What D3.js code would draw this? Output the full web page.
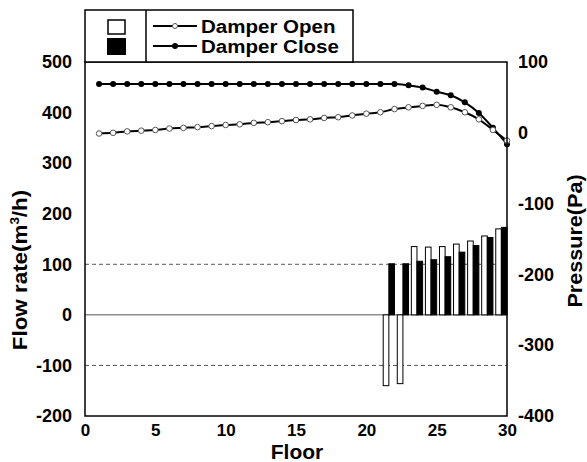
<!DOCTYPE html>
<html>
<head>
<meta charset="utf-8">
<script src="https://cdn.jsdelivr.net/npm/d3@7"></script>
<style>
  html, body { margin: 0; padding: 0; background: #fff; }
  svg { display: block; font-family: "Liberation Sans", Arial, sans-serif; font-weight: bold; }
</style>
</head>
<body>
<svg id="chart" width="587" height="462"></svg>
<script>
// Floors along the x axis
const floors = d3.range(1, 31);

// Pressure (Pa) per floor, right axis
const pressureOpen = [-1, 0, 2, 3, 4, 6, 7, 8, 9.5, 11, 12, 14, 15, 16.5, 18, 19, 21, 22, 24.5, 27,
                      29, 33.5, 36, 38, 39.5, 36, 29, 19, 4, -11];
const pressureClose = [69, 69, 69, 69, 69, 69, 69, 69, 69, 69, 69, 69, 69, 69, 69, 69, 69, 69, 69, 69,
                       69, 69, 67, 64, 58, 53, 43, 28, 7, -16];

// Flow rate (m3/h) per floor, left axis bars
const barFloors = [22, 23, 24, 25, 26, 27, 28, 29, 30];
const flowOpen  = [-140, -136, 135, 134, 135, 140, 146, 156, 170];
const flowClose = [101, 101, 106, 109, 115, 124, 137, 153, 173];

// Axis ticks
const xTicks = [0, 5, 10, 15, 20, 25, 30];
const leftTicks = [-200, -100, 0, 100, 200, 300, 400, 500];
const rightTicks = [-400, -300, -200, -100, 0, 100];
const refLines = [100, -100];

const legendLabels = ["Damper Open", "Damper Close"];

const svg = d3.select("#chart");
const L = 85, R = 507, T = 62, B = 416;

const x = d3.scaleLinear().domain([0, 30]).range([L, R]);
const yFlow = d3.scaleLinear().domain([-200, 500]).range([B, T]);
const yPres = d3.scaleLinear().domain([-400, 100]).range([B, T]);

// zero line and dashed reference lines
svg.append("line")
  .attr("x1", L).attr("x2", R)
  .attr("y1", yFlow(0)).attr("y2", yFlow(0))
  .attr("stroke", "#555").attr("stroke-width", 1);
svg.selectAll("line.ref").data(refLines).enter().append("line")
  .attr("class", "ref")
  .attr("x1", L).attr("x2", R)
  .attr("y1", d => yFlow(d)).attr("y2", d => yFlow(d))
  .attr("stroke", "#555").attr("stroke-width", 1).attr("stroke-dasharray", "4,3");

// bars: open bar then close bar, ending at the floor position
const bw = 0.4;
const bars = svg.append("g");
barFloors.forEach((f, i) => {
  const vO = flowOpen[i], vC = flowClose[i];
  bars.append("rect")
    .attr("x", x(f - 2 * bw)).attr("width", x(bw) - x(0))
    .attr("y", yFlow(Math.max(0, vO))).attr("height", Math.abs(yFlow(vO) - yFlow(0)))
    .attr("fill", "#fff").attr("stroke", "#000").attr("stroke-width", 1);
  bars.append("rect")
    .attr("x", x(f - bw)).attr("width", x(bw) - x(0))
    .attr("y", yFlow(Math.max(0, vC))).attr("height", Math.abs(yFlow(vC) - yFlow(0)))
    .attr("fill", "#000").attr("stroke", "#000").attr("stroke-width", 1);
});

// pressure lines
const line = d3.line().x((d, i) => x(floors[i])).y(d => yPres(d)).curve(d3.curveMonotoneX);
svg.append("path").datum(pressureClose).attr("d", line)
  .attr("fill", "none").attr("stroke", "#000").attr("stroke-width", 2);
svg.append("path").datum(pressureOpen).attr("d", line)
  .attr("fill", "none").attr("stroke", "#000").attr("stroke-width", 2);
svg.selectAll("circle.close").data(pressureClose).enter().append("circle")
  .attr("class", "close")
  .attr("cx", (d, i) => x(floors[i])).attr("cy", d => yPres(d)).attr("r", 3)
  .attr("fill", "#000");
svg.selectAll("circle.open").data(pressureOpen).enter().append("circle")
  .attr("class", "open")
  .attr("cx", (d, i) => x(floors[i])).attr("cy", d => yPres(d)).attr("r", 2.8)
  .attr("fill", "#fff").attr("stroke", "#555").attr("stroke-width", 1);

// frame
svg.append("rect").attr("x", L).attr("y", T).attr("width", R - L).attr("height", B - T)
  .attr("fill", "none").attr("stroke", "#000").attr("stroke-width", 1.5);

// axes (plain hyphen for negative numbers)
const fmt = d => String(d);
const xAxis = svg.append("g").attr("transform", `translate(0,${B})`)
  .call(d3.axisBottom(x).tickValues(xTicks).tickFormat(fmt).tickSize(0).tickPadding(8));
const lAxis = svg.append("g").attr("transform", `translate(${L},0)`)
  .call(d3.axisLeft(yFlow).tickValues(leftTicks).tickFormat(fmt).tickSize(0).tickPadding(13));
const rAxis = svg.append("g").attr("transform", `translate(${R},0)`)
  .call(d3.axisRight(yPres).tickValues(rightTicks).tickFormat(fmt).tickSize(0).tickPadding(11));
[[xAxis, 17], [lAxis, 18], [rAxis, 18]].forEach(([g, s]) => {
  g.select(".domain").remove();
  g.selectAll("text").attr("font-size", s).attr("font-weight", "bold")
    .attr("font-family", "Liberation Sans, Arial, sans-serif").attr("fill", "#000");
});

// axis titles
svg.append("text").attr("transform", "translate(297,459) scale(1.05,1)")
  .attr("text-anchor", "middle").attr("font-size", 20).text("Floor");
const lt = svg.append("text").attr("transform", "translate(27,270) rotate(-90) scale(1.12,1)")
  .attr("text-anchor", "middle").attr("font-size", 20);
lt.append("tspan").text("Flow rate(m");
lt.append("tspan").attr("font-size", 12).attr("dy", -8).text("3");
lt.append("tspan").attr("dy", 8).text("/h)");
svg.append("text").attr("transform", "translate(582,241) rotate(-90) scale(1.08,1)")
  .attr("text-anchor", "middle").attr("font-size", 20).text("Pressure(Pa)");

// legend
const lg = svg.append("g");
lg.append("rect").attr("x", L).attr("y", 10).attr("width", 353 - L).attr("height", T - 10)
  .attr("fill", "#fff").attr("stroke", "#000").attr("stroke-width", 1.5);
lg.append("line").attr("x1", 146).attr("x2", 146).attr("y1", 10).attr("y2", T)
  .attr("stroke", "#000").attr("stroke-width", 1.5);
lg.append("rect").attr("x", 108).attr("y", 20).attr("width", 17).attr("height", 14)
  .attr("fill", "#fff").attr("stroke", "#000").attr("stroke-width", 1.5);
lg.append("rect").attr("x", 107).attr("y", 38).attr("width", 19).attr("height", 17)
  .attr("fill", "#000");
const rows = [26, 46];
legendLabels.forEach((t, i) => {
  lg.append("line").attr("x1", 153).attr("x2", 197).attr("y1", rows[i]).attr("y2", rows[i])
    .attr("stroke", "#000").attr("stroke-width", 2);
  const c = lg.append("circle").attr("cx", 175).attr("cy", rows[i]).attr("r", i ? 3 : 2.5);
  if (i) c.attr("fill", "#000");
  else c.attr("fill", "#fff").attr("stroke", "#555").attr("stroke-width", 1);
  lg.append("text").attr("transform", `translate(201,${rows[i] + 6.5}) scale(1.08,1)`)
    .attr("font-size", 19).text(t);
});
</script>
</body>
</html>
